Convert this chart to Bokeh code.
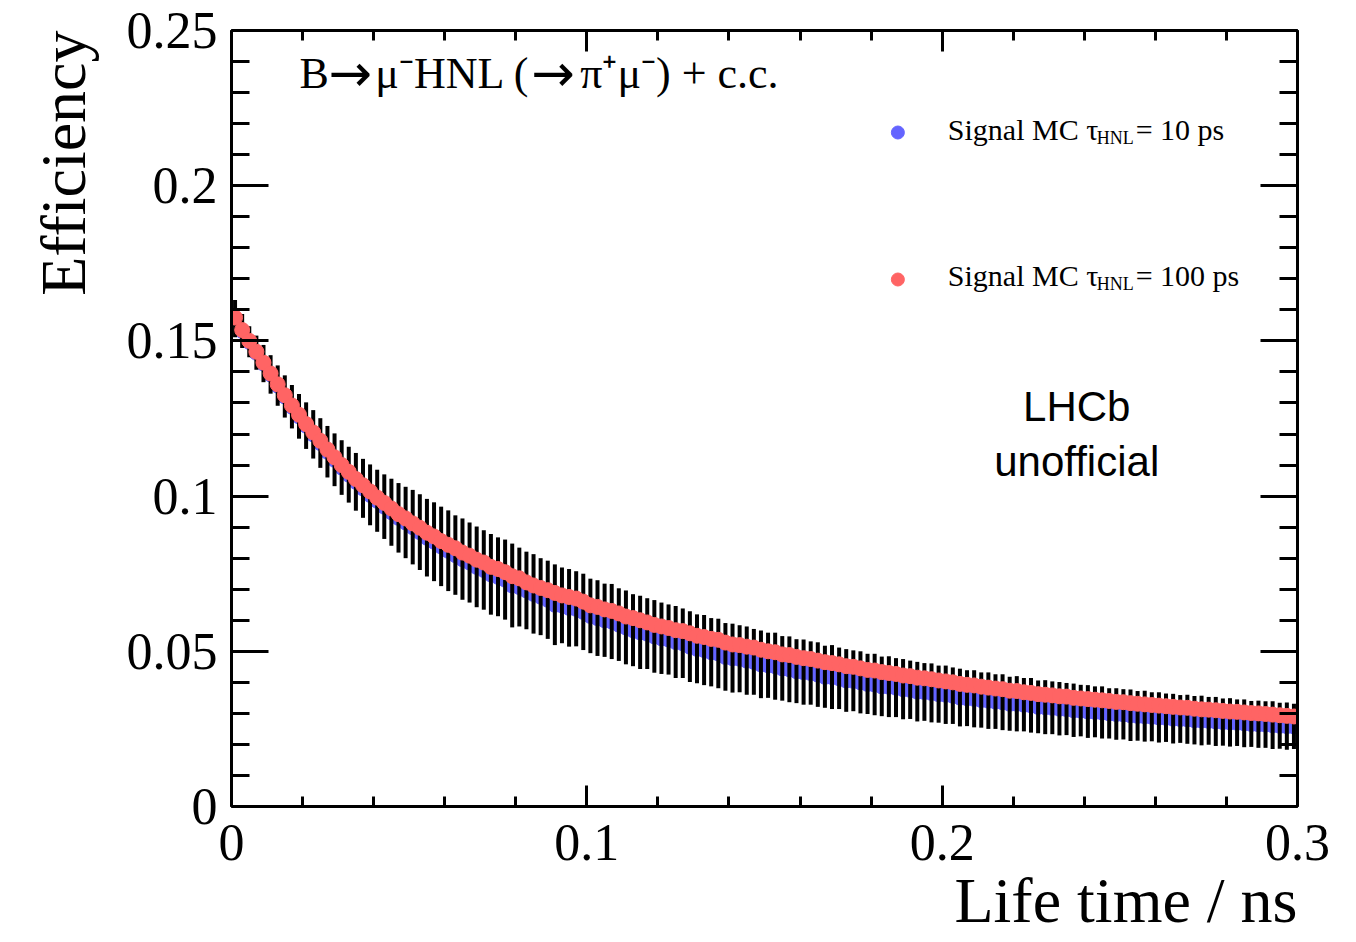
import math
from bokeh.plotting import figure
from bokeh.models import (FixedTicker, LinearAxis, CustomJSTickFormatter,
                          Range1d, ColumnDataSource, Title)
from bokeh.core.properties import value
from bokeh.embed import file_html
from bokeh.resources import INLINE

# ---------------- data ----------------
life_time_ns = [round(0.001 + 0.002 * i, 3) for i in range(150)]  # bin centres

eff_100ps = [
    0.1575, 0.1535, 0.1500, 0.1465, 0.1430, 0.1395, 0.1360, 0.1325, 0.1292, 0.1262,
    0.1232, 0.1205, 0.1178, 0.1150, 0.1125, 0.1100, 0.1078, 0.1055, 0.1035, 0.1015,
    0.0995, 0.0978, 0.0960, 0.0942, 0.0928, 0.0912, 0.0898, 0.0882, 0.0870, 0.0855,
    0.0843, 0.0832, 0.0818, 0.0808, 0.0795, 0.0786, 0.0772, 0.0765, 0.0755, 0.0742,
    0.0735, 0.0722, 0.0712, 0.0704, 0.0697, 0.0688, 0.0680, 0.0675, 0.0670, 0.0660,
    0.0648, 0.0643, 0.0635, 0.0630, 0.0622, 0.0612, 0.0607, 0.0600, 0.0593, 0.0585,
    0.0580, 0.0575, 0.0568, 0.0565, 0.0558, 0.0550, 0.0546, 0.0540, 0.0537, 0.0528,
    0.0522, 0.0520, 0.0515, 0.0512, 0.0505, 0.0500, 0.0497, 0.0490, 0.0488, 0.0482,
    0.0478, 0.0475, 0.0470, 0.0465, 0.0462, 0.0458, 0.0452, 0.0450, 0.0445, 0.0440,
    0.0438, 0.0433, 0.0430, 0.0427, 0.0422, 0.0420, 0.0415, 0.0413, 0.0410, 0.0406,
    0.0403, 0.0400, 0.0395, 0.0392, 0.0390, 0.0386, 0.0383, 0.0380, 0.0378, 0.0373,
    0.0372, 0.0368, 0.0366, 0.0362, 0.0360, 0.0358, 0.0355, 0.0354, 0.0350, 0.0348,
    0.0346, 0.0344, 0.0342, 0.0340, 0.0337, 0.0336, 0.0333, 0.0331, 0.0329, 0.0327,
    0.0325, 0.0323, 0.0321, 0.0319, 0.0318, 0.0315, 0.0313, 0.0312, 0.0310, 0.0308,
    0.0306, 0.0305, 0.0303, 0.0301, 0.0300, 0.0298, 0.0296, 0.0294, 0.0292, 0.0290,
]

eff_10ps = [
    0.1572, 0.1532, 0.1497, 0.1462, 0.1427, 0.1392, 0.1356, 0.1321, 0.1288, 0.1257,
    0.1227, 0.1199, 0.1171, 0.1143, 0.1117, 0.1092, 0.1069, 0.1046, 0.1025, 0.1004,
    0.0985, 0.0966, 0.0948, 0.0930, 0.0915, 0.0900, 0.0884, 0.0866, 0.0853, 0.0838,
    0.0824, 0.0810, 0.0797, 0.0786, 0.0772, 0.0762, 0.0748, 0.0740, 0.0731, 0.0712,
    0.0707, 0.0696, 0.0685, 0.0676, 0.0666, 0.0650, 0.0648, 0.0640, 0.0637, 0.0627,
    0.0614, 0.0607, 0.0600, 0.0596, 0.0586, 0.0577, 0.0568, 0.0561, 0.0557, 0.0548,
    0.0542, 0.0538, 0.0530, 0.0526, 0.0515, 0.0508, 0.0504, 0.0497, 0.0493, 0.0482,
    0.0478, 0.0476, 0.0470, 0.0466, 0.0458, 0.0455, 0.0452, 0.0445, 0.0442, 0.0436,
    0.0433, 0.0430, 0.0425, 0.0418, 0.0417, 0.0413, 0.0406, 0.0405, 0.0400, 0.0395,
    0.0393, 0.0387, 0.0386, 0.0383, 0.0378, 0.0376, 0.0370, 0.0369, 0.0366, 0.0362,
    0.0360, 0.0357, 0.0351, 0.0349, 0.0347, 0.0343, 0.0341, 0.0338, 0.0336, 0.0331,
    0.0331, 0.0328, 0.0326, 0.0321, 0.0320, 0.0318, 0.0315, 0.0314, 0.0310, 0.0309,
    0.0306, 0.0305, 0.0303, 0.0300, 0.0298, 0.0297, 0.0294, 0.0292, 0.0291, 0.0289,
    0.0287, 0.0286, 0.0283, 0.0282, 0.0281, 0.0278, 0.0277, 0.0276, 0.0274, 0.0272,
    0.0271, 0.0270, 0.0268, 0.0266, 0.0265, 0.0264, 0.0262, 0.0260, 0.0259, 0.0258,
]

err_10ps = [
    0.0060, 0.0055, 0.0050, 0.0055, 0.0060, 0.0062, 0.0065, 0.0068, 0.0070, 0.0072,
    0.0075, 0.0078, 0.0080, 0.0083, 0.0085, 0.0088, 0.0090, 0.0093, 0.0095, 0.0098,
    0.0100, 0.0104, 0.0108, 0.0112, 0.0115, 0.0120, 0.0122, 0.0125, 0.0127, 0.0128,
    0.0130, 0.0128, 0.0131, 0.0129, 0.0130, 0.0128, 0.0130, 0.0127, 0.0129, 0.0135,
    0.0127, 0.0125, 0.0128, 0.0124, 0.0126, 0.0130, 0.0122, 0.0125, 0.0121, 0.0123,
    0.0120, 0.0122, 0.0118, 0.0121, 0.0117, 0.0119, 0.0116, 0.0118, 0.0114, 0.0117,
    0.0115, 0.0113, 0.0116, 0.0112, 0.0114, 0.0111, 0.0113, 0.0110, 0.0112, 0.0109,
    0.0111, 0.0108, 0.0110, 0.0106, 0.0109, 0.0105, 0.0108, 0.0104, 0.0106, 0.0103,
    0.0105, 0.0102, 0.0104, 0.0100, 0.0103, 0.0099, 0.0101, 0.0098, 0.0100, 0.0097,
    0.0099, 0.0096, 0.0098, 0.0095, 0.0097, 0.0094, 0.0096, 0.0093, 0.0095, 0.0092,
    0.0094, 0.0091, 0.0093, 0.0090, 0.0092, 0.0089, 0.0091, 0.0088, 0.0090, 0.0087,
    0.0089, 0.0086, 0.0088, 0.0085, 0.0087, 0.0085, 0.0086, 0.0084, 0.0086, 0.0083,
    0.0085, 0.0082, 0.0084, 0.0081, 0.0083, 0.0081, 0.0083, 0.0080, 0.0082, 0.0079,
    0.0081, 0.0078, 0.0080, 0.0077, 0.0079, 0.0078, 0.0080, 0.0077, 0.0079, 0.0076,
    0.0078, 0.0075, 0.0077, 0.0074, 0.0076, 0.0075, 0.0077, 0.0074, 0.0076, 0.0073,
]

x_major_ticks = [0.0, 0.1, 0.2, 0.3]
x_minor_ticks = [round(0.02 * i, 2) for i in range(16)]
y_major_ticks = [0.0, 0.05, 0.1, 0.15, 0.2, 0.25]
y_minor_ticks = [round(0.01 * i, 2) for i in range(26)]

x_title = "Life time / ns"
y_title = "Efficiency"

# ---------------- figure ----------------
W, H = 1356, 942
FL, FR, FT, FB = 230, 1297, 30, 806   # frame edges (px)
XMAX, YMAX = 0.3, 0.25

def px2x(px):
    return (px - FL) / (FR - FL) * XMAX

def px2y(py):
    return (FB - py) / (FB - FT) * YMAX

SERIF = "Liberation Serif"
SANS = "Liberation Sans"

p = figure(width=W, height=H, x_range=Range1d(0, XMAX), y_range=Range1d(0, YMAX),
           output_backend="svg", toolbar_location=None,
           min_border_left=FL, min_border_right=W - FR,
           min_border_top=FT, min_border_bottom=H - FB)
p.grid.visible = False
p.outline_line_color = None
p.background_fill_color = "white"
p.border_fill_color = "white"

fmt = CustomJSTickFormatter(code="return String(parseFloat(tick.toFixed(3)));")

def style_axis(ax, major_len, minor_len, labels=True):
    ax.axis_line_width = 3
    ax.axis_line_color = "black"
    ax.major_tick_line_width = 3
    ax.minor_tick_line_width = 3
    ax.major_tick_line_color = "black"
    ax.minor_tick_line_color = "black"
    ax.major_tick_in = major_len
    ax.major_tick_out = 0
    ax.minor_tick_in = minor_len
    ax.minor_tick_out = 0
    ax.formatter = fmt
    if labels:
        ax.major_label_text_font = SERIF
        ax.major_label_text_font_size = "52px"
        ax.major_label_text_color = "black"
    else:
        ax.major_label_text_font_size = "0px"
        ax.major_label_text_color = None

xa = p.xaxis[0]
xa.ticker = FixedTicker(ticks=x_major_ticks, minor_ticks=x_minor_ticks)
style_axis(xa, 21, 10)
xa.major_label_standoff = 18

ya = p.yaxis[0]
ya.ticker = FixedTicker(ticks=y_major_ticks, minor_ticks=y_minor_ticks)
style_axis(ya, 37, 18)
ya.major_label_standoff = 14

top = LinearAxis(ticker=FixedTicker(ticks=x_major_ticks, minor_ticks=x_minor_ticks))
style_axis(top, 21, 10, labels=False)
p.add_layout(top, "above")
right = LinearAxis(ticker=FixedTicker(ticks=y_major_ticks, minor_ticks=y_minor_ticks))
style_axis(right, 37, 18, labels=False)
p.add_layout(right, "right")

# axis titles (ROOT style: flush with the axis end)
p.add_layout(Title(text=x_title, align="right", text_font=SERIF,
                   text_font_size="64px", text_font_style="normal",
                   text_color="black", standoff=0), "below")
p.add_layout(Title(text=y_title, align="right", text_font=SERIF,
                   text_font_size="64px", text_font_style="normal",
                   text_color="black", standoff=50), "left")

# ---------------- data glyphs ----------------
BLUE = "#6464FF"
RED = "#FF6464"

src = ColumnDataSource(dict(
    x=life_time_ns,
    blue=eff_10ps,
    red=eff_100ps,
    lo=[b - e for b, e in zip(eff_10ps, err_10ps)],
    hi=[b + e for b, e in zip(eff_10ps, err_10ps)],
))

p.scatter("x", "blue", source=src, size=15, marker="circle",
          fill_color=BLUE, line_color=BLUE)
p.segment(x0="x", y0="lo", x1="x", y1="hi", source=src,
          line_color="black", line_width=4)
p.scatter("x", "red", source=src, size=15, marker="circle",
          fill_color=RED, line_color=RED)

# ---------------- legend (hand-built for subscripts) ----------------
p.scatter([px2x(897)], [px2y(132)], size=13, marker="circle",
          fill_color=BLUE, line_color=BLUE)
p.scatter([px2x(897)], [px2y(279)], size=13, marker="circle",
          fill_color=RED, line_color=RED)

def txt(px, py, s, size, font=SERIF, align="left"):
    p.text([px2x(px)], [px2y(py)], text=[s], text_font=value(font),
           text_font_size=size, text_align=align, text_baseline="alphabetic",
           text_color="black")

txt(947, 129, "Signal MC τ", "30px")
txt(1096, 137, "HNL", "18px")
txt(1135, 129, "= 10 ps", "30px")
txt(947, 275, "Signal MC τ", "30px")
txt(1096, 283, "HNL", "18px")
txt(1135, 275, "= 100 ps", "30px")

# ---------------- title and watermark ----------------
txt(298, 73, "B", "44px")
txt(327, 72, "→", "52px", font="DejaVu Sans")
txt(374, 73, "μ⁻HNL (", "44px")
txt(530, 72, "→", "52px", font="DejaVu Sans")
txt(579, 73, "π⁺μ⁻) + c.c.", "44px")
txt(1076, 406, "LHCb", "42px", font=SANS, align="center")
txt(1076, 461, "unofficial", "42px", font=SANS, align="center")

open("out.html", "w").write(file_html(p, INLINE))
